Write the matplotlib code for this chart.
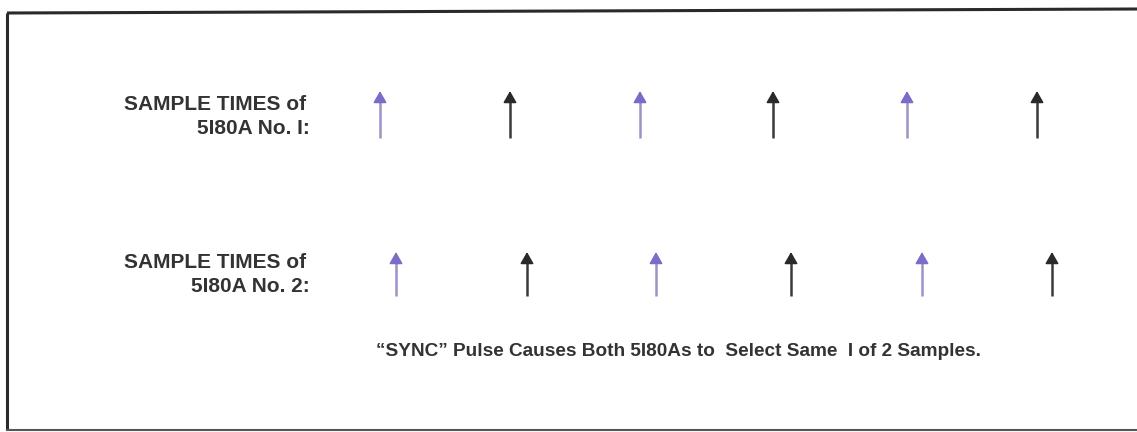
import matplotlib.pyplot as plt

# sample instants (pixel columns of the drawing) for each 5180A
times_unit1 = [380, 510, 640, 773, 907, 1037]
times_unit2 = [396, 527, 656, 791, 922, 1052]
# alternate samples: first of pair (purple) and second of pair (black)
sample_kind = ['a', 'b', 'a', 'b', 'a', 'b']

label_unit1 = ['SAMPLE TIMES of', '5I80A No. I:']
label_unit2 = ['SAMPLE TIMES of', '5I80A No. 2:']
caption = '\u201cSYNC\u201d Pulse Causes Both 5I80As to  Select Same  I of 2 Samples.'

kind_color = {'a': '#7a6cc8', 'b': '#2a2a2a'}
shaft_color = {'a': '#9b92c9', 'b': '#3a3a3a'}

W, H = 1137, 432
fig = plt.figure(figsize=(W / 100, H / 100), dpi=100)
ax = fig.add_axes([0, 0, 1, 1])
ax.set_xlim(0, W)
ax.set_ylim(H, 0)
ax.axis('off')

# frame (open on the right, like the scanned figure)
ax.plot([7, 7], [13, 430], color='#2a2a2a', lw=2.2, solid_capstyle='butt')
ax.plot([7, W], [13, 9], color='#2a2a2a', lw=2.2, solid_capstyle='butt')
ax.plot([7, W], [430, 430], color='#555555', lw=1.5)

font = dict(family='Liberation Sans', fontweight='bold', color='#333333')


def draw_row(times, y_tip, y_base, labels, y_label):
    for t, k in zip(times, sample_kind):
        ax.plot([t, t], [y_base, y_tip + 6], color=shaft_color[k], lw=1.8,
                solid_capstyle='butt')
        ax.annotate('', xy=(t, y_tip), xytext=(t, y_tip + 10),
                    arrowprops=dict(arrowstyle='-|>,head_length=0.7,head_width=0.4',
                                    color=kind_color[k], lw=1.2,
                                    shrinkA=0, shrinkB=0))
    ax.text(306, y_label, labels[0], ha='right', va='center', fontsize=15, **font)
    ax.text(310, y_label + 24, labels[1], ha='right', va='center', fontsize=15, **font)


draw_row(times_unit1, 91, 138, label_unit1, 105)
draw_row(times_unit2, 252, 296, label_unit2, 262)

ax.text(376, 352, caption, ha='left', va='center', fontsize=13.7, **font)

fig.savefig('out.png', dpi=100, facecolor='white')
